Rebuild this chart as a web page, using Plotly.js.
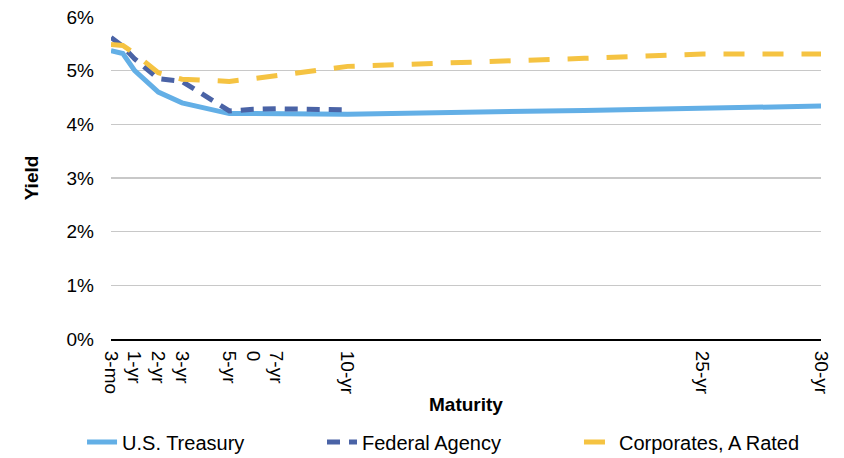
<!DOCTYPE html>
<html>
<head>
<meta charset="utf-8">
<script src="https://cdn.plot.ly/plotly-3.0.1.min.js"></script>
<style>
html,body{margin:0;padding:0;background:#fff;}
#chart{width:844px;height:458px;}
</style>
</head>
<body>
<div id="chart"></div>
<script>
// Maturity in years (3-mo plotted at 0)
var maturity = [0, 0.5, 1, 2, 3, 5, 6, 7, 10, 20, 25, 30];
var treasury = [5.37, 5.32, 5.00, 4.60, 4.40, 4.20, 4.20, 4.20, 4.19, 4.26, 4.30, 4.34];
var agency = [5.62, 5.45, 5.22, 4.85, 4.80, 4.25, 4.28, 4.29, 4.27, null, null, null];
var corporates = [5.49, 5.47, 5.32, 4.96, 4.84, 4.80, 4.85, 4.91, 5.08, 5.23, 5.31, 5.31];

var tickVals = [0, 1, 2, 3, 5, 6, 7, 10, 25, 30];
var tickText = ['3-mo', '1-yr', '2-yr', '3-yr', '5-yr', '0', '7-yr', '10-yr', '25-yr', '30-yr'];
var yTicks = [0, 1, 2, 3, 4, 5, 6];
var yTickText = ['0%', '1%', '2%', '3%', '4%', '5%', '6%'];

var font = 'Liberation Sans, Arial, sans-serif';

var traces = [
  {x: maturity, y: treasury, name: 'U.S. Treasury', type: 'scatter', mode: 'lines', legend: 'legend',
   line: {color: '#63AFE6', width: 5}},
  {x: maturity, y: agency, name: 'Federal Agency', type: 'scatter', mode: 'lines', legend: 'legend2',
   line: {color: '#4A63A6', width: 5, dash: '13px,9px'}},
  {x: maturity, y: corporates, name: 'Corporates, A Rated', type: 'scatter', mode: 'lines', legend: 'legend3',
   line: {color: '#F5C342', width: 5, dash: '21px,18px'}}
];

function legendAt(x) {
  return {orientation: 'h', x: x, xref: 'container', xanchor: 'left', y: 0.035, yref: 'container', yanchor: 'middle',
          font: {family: font, size: 20, color: '#000'}, bgcolor: 'rgba(0,0,0,0)'};
}

var layout = {
  width: 844, height: 458,
  margin: {l: 111, r: 23, t: 17, b: 119},
  paper_bgcolor: '#fff', plot_bgcolor: '#fff',
  font: {family: font, size: 19, color: '#000'},
  showlegend: true,
  legend: legendAt(0.0972),
  legend2: legendAt(0.3815),
  legend3: legendAt(0.686),
  xaxis: {
    range: [0, 30], tickmode: 'array', tickvals: tickVals, ticktext: tickText,
    tickangle: 90, showgrid: false, zeroline: false,
    showline: true, linecolor: '#000', linewidth: 2,
    ticks: '', ticklabelstandoff: 6,
    tickfont: {family: font, size: 19, color: '#000'},
    title: {text: 'Maturity', font: {family: font, size: 19, color: '#000', weight: 'bold'}, standoff: 4}
  },
  yaxis: {
    range: [0, 6], tickmode: 'array', tickvals: yTicks, ticktext: yTickText,
    showgrid: true, gridcolor: '#C8C8C8', gridwidth: 1.5, zeroline: false,
    showline: false, ticks: '', ticklabelstandoff: 16,
    tickfont: {family: font, size: 19, color: '#000'},
    title: {text: 'Yield', font: {family: font, size: 19, color: '#000', weight: 'bold'}, standoff: 22}
  }
};

Plotly.newPlot('chart', traces, layout, {displayModeBar: false, staticPlot: true});
</script>
</body>
</html>
